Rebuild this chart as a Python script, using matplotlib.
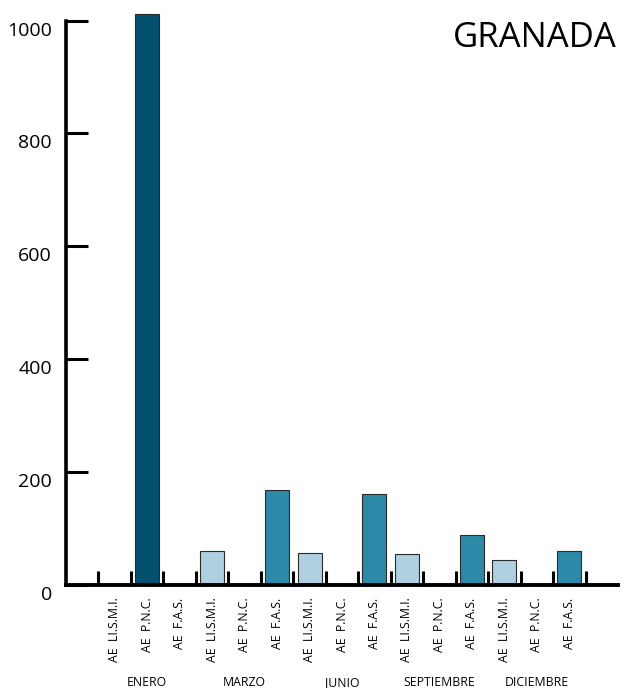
import matplotlib
matplotlib.use("Agg")
import matplotlib.pyplot as plt
import numpy as np
from matplotlib.transforms import ScaledTranslation

plt.rcParams['font.family'] = ['Open Sans', 'DejaVu Sans']

# data
months = ["ENERO", "MARZO", "JUNIO", "SEPTIEMBRE", "DICIEMBRE"]
series = ["AE  LI.S.M.I.", "AE  P.N.C.", "AE  F.A.S."]
limi = [0, 61, 57, 55, 44]
pnc = [1011, 0, 0, 0, 0]
fas = [0, 168, 161, 89, 60]
yticks = [0, 200, 400, 600, 800, 1000]

col_limi = "#aed0e1"
col_pnc = "#03506f"
col_fas = "#2c89a8"

fig = plt.figure(figsize=(6.24, 6.88), dpi=100)
ax = fig.add_axes([66/624, 103/688, 552/624, 564.5/688])

# one slot per label, slot 0 and the last one stay empty
labels = []
vals = []
cols = []
for i, m in enumerate(months):
    for s, v, c in zip(series, [limi[i], pnc[i], fas[i]], [col_limi, col_pnc, col_fas]):
        labels.append(s)
        vals.append(v)
        cols.append(c)
x = np.arange(1, len(vals) + 1)

for xi, v, c in zip(x, vals, cols):
    if v > 0:
        ax.bar(xi, v, width=0.74, color=c, edgecolor="#2a2a2a", linewidth=0.8, clip_on=False, zorder=2)

ax.set_xlim(-0.5, len(vals) + 1.5)
ax.set_ylim(0, 1000)

for sp in ["top", "right"]:
    ax.spines[sp].set_visible(False)
ax.spines["left"].set_linewidth(2.6)
ax.spines["bottom"].set_linewidth(2.8)
ax.spines["bottom"].set_zorder(3)

# y axis
ax.set_yticks(yticks)
ax.set_yticklabels([str(t) for t in yticks], fontsize=14)
ax.tick_params(axis="y", direction="in", length=16, width=2.2, pad=10)
off = ScaledTranslation(0, -8/100, fig.dpi_scale_trans)
for lab in ax.get_yticklabels():
    lab.set_transform(lab.get_transform() + off)

# x axis: ticks at slot borders, labels at slot centers
ax.set_xticks(np.arange(0.5, len(vals) + 1.5, 1.0))
ax.set_xticklabels([])
ax.tick_params(axis="x", direction="in", length=10, width=2.2)
ax.set_xticks(x, minor=True)
ax.set_xticklabels(labels, minor=True, rotation=90, fontsize=8.8, va="top", ha="center")
ax.tick_params(axis="x", which="minor", length=0, pad=9)

for i, m in enumerate(months):
    ax.text(3 * i + 2, -101/564.5, m, transform=ax.get_xaxis_transform(), ha="center", va="baseline", fontsize=8.8)

fig.text(617/624, 1 - 47/688, "GRANADA", ha="right", va="baseline", fontsize=25)

fig.savefig("out.png", dpi=100)
